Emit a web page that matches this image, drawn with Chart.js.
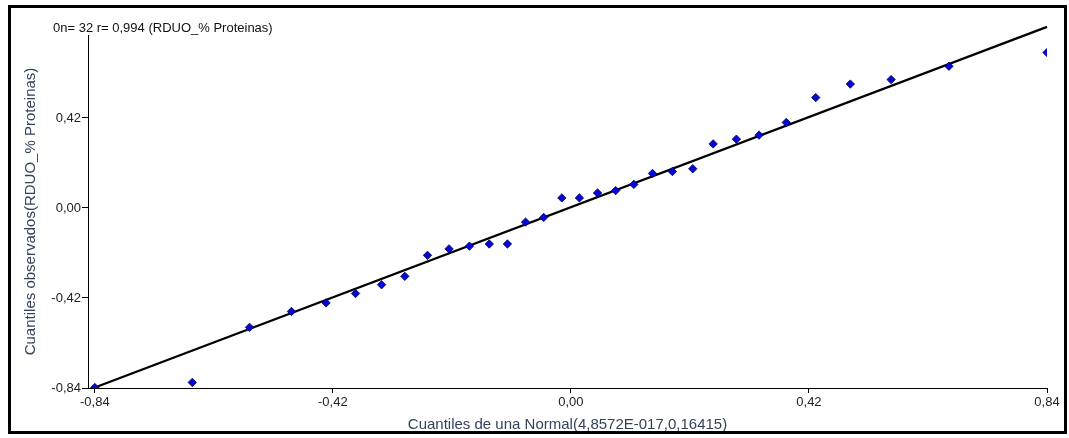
<!DOCTYPE html>
<html>
<head>
<meta charset="utf-8">
<title>Cuantiles observados vs Normal</title>
<script src="https://cdn.jsdelivr.net/npm/chart.js@4/dist/chart.umd.min.js"></script>
<style>
  html, body { margin: 0; padding: 0; background: #ffffff; }
  #wrap { position: relative; width: 1069px; height: 438px; }
</style>
</head>
<body>
<div id="wrap"><canvas id="qq"></canvas></div>
<script>
// Theoretical normal quantiles (x) and observed quantiles (y), RDUO_% Proteinas
const normalQuantiles = [
  -0.840, -0.668, -0.567, -0.493, -0.432, -0.380, -0.334, -0.293,
  -0.253, -0.215, -0.179, -0.144, -0.112, -0.080, -0.048, -0.016,
   0.015,  0.047,  0.079,  0.111,  0.144,  0.179,  0.215,  0.251,
   0.292,  0.332,  0.380,  0.432,  0.493,  0.565,  0.667,  0.840
];
const observedQuantiles = [
  -0.838, -0.814, -0.557, -0.483, -0.443, -0.399, -0.358, -0.319,
  -0.221, -0.191, -0.178, -0.168, -0.168, -0.066, -0.044,  0.047,
   0.047,  0.070,  0.081,  0.110,  0.161,  0.170,  0.183,  0.299,
   0.321,  0.340,  0.399,  0.515,  0.578,  0.599,  0.661,  0.725
];

// Reference line end points
const refLineX = [-0.84, 0.84];
const refLineY = [-0.838, 0.845];

// Axis ticks
const xTickValues = [-0.84, -0.42, 0.00, 0.42, 0.84];
const xTickLabels = ['-0,84', '-0,42', '0,00', '0,42', '0,84'];
const yTickValues = [-0.84, -0.42, 0.00, 0.42];
const yTickLabels = ['-0,84', '-0,42', '0,00', '0,42'];

const headerText = '0n= 32 r= 0,994 (RDUO_% Proteinas)';
const xTitle = 'Cuantiles de una Normal(4,8572E-017,0,16415)';
const yTitle = 'Cuantiles observados(RDUO_% Proteinas)';

const FONT = '"Liberation Sans", Arial, sans-serif';
const tickColor = '#222222';
const titleColor = '#34425a';

const points = normalQuantiles.map((x, i) => ({ x: x, y: observedQuantiles[i] }));
const refLine = refLineX.map((x, i) => ({ x: x, y: refLineY[i] }));

// White background, outer frame and header line
const framePlugin = {
  id: 'frame',
  beforeDraw(chart) {
    const ctx = chart.ctx;
    ctx.save();
    ctx.fillStyle = '#ffffff';
    ctx.fillRect(0, 0, chart.width, chart.height);
    ctx.restore();
  },
  afterDraw(chart) {
    const ctx = chart.ctx;
    ctx.save();
    ctx.strokeStyle = '#000000';
    ctx.lineWidth = 3;
    ctx.strokeRect(9.5, 6.5, 1056, 426);
    ctx.fillStyle = '#111111';
    ctx.font = '13px ' + FONT;
    ctx.textBaseline = 'alphabetic';
    ctx.textAlign = 'left';
    ctx.fillText(headerText, 53, 32);
    ctx.restore();
  }
};

new Chart(document.getElementById('qq'), {
  type: 'scatter',
  data: {
    datasets: [
      {
        type: 'scatter',
        label: 'Cuantiles',
        data: points,
        pointStyle: 'rectRot',
        pointRadius: 4.2,
        pointHoverRadius: 4.2,
        backgroundColor: '#0606d8',
        borderColor: '#00005a',
        borderWidth: 0.8,
        order: 1
      },
      {
        type: 'line',
        label: 'Referencia',
        data: refLine,
        borderColor: '#000000',
        borderWidth: 2.2,
        pointRadius: 0,
        fill: false,
        clip: false,
        order: 2
      }
    ]
  },
  plugins: [framePlugin],
  options: {
    responsive: true,
    maintainAspectRatio: false,
    animation: false,
    events: [],
    layout: { padding: { left: 0, top: 35, right: 22, bottom: 0 } },
    plugins: {
      legend: { display: false },
      tooltip: { enabled: false },
      title: { display: false }
    },
    scales: {
      x: {
        type: 'linear',
        min: -0.852,
        max: 0.84,
        afterBuildTicks(scale) { scale.ticks = xTickValues.map(v => ({ value: v })); },
        afterFit(scale) { scale.height = 50; },
        ticks: {
          autoSkip: false,
          maxRotation: 0,
          padding: 2,
          color: tickColor,
          font: { family: FONT, size: 13 },
          callback(value) {
            const i = xTickValues.findIndex(v => Math.abs(v - value) < 1e-9);
            return i >= 0 ? xTickLabels[i] : '';
          }
        },
        grid: { drawOnChartArea: false, drawTicks: true, tickLength: 5, color: '#000000', lineWidth: 1 },
        border: { display: true, color: '#000000', width: 1 },
        title: {
          display: true,
          text: xTitle,
          color: titleColor,
          font: { family: FONT, size: 15 },
          padding: { top: 0, bottom: 4 }
        }
      },
      y: {
        type: 'linear',
        min: -0.84,
        max: 0.807,
        afterBuildTicks(scale) { scale.ticks = yTickValues.map(v => ({ value: v })); },
        afterFit(scale) { scale.width = 88; },
        ticks: {
          autoSkip: false,
          padding: 1,
          color: tickColor,
          font: { family: FONT, size: 13 },
          callback(value) {
            const i = yTickValues.findIndex(v => Math.abs(v - value) < 1e-9);
            return i >= 0 ? yTickLabels[i] : '';
          }
        },
        grid: { drawOnChartArea: false, drawTicks: true, tickLength: 6, color: '#000000', lineWidth: 1 },
        border: { display: true, color: '#000000', width: 1 },
        title: {
          display: true,
          text: yTitle,
          color: titleColor,
          font: { family: FONT, size: 15 },
          padding: { top: 22, bottom: 0 }
        }
      }
    }
  }
});
</script>
</body>
</html>
